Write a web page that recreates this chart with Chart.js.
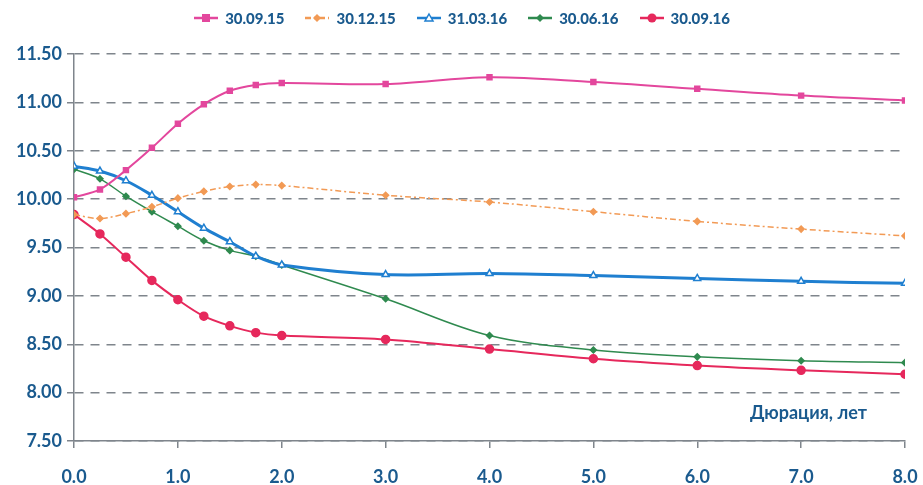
<!DOCTYPE html>
<html>
<head>
<meta charset="utf-8">
<script src="https://cdn.jsdelivr.net/npm/chart.js@4.4.1/dist/chart.umd.min.js"></script>
<style>
  body { margin: 0; background: #fff; }
  #wrap { position: relative; width: 923px; height: 485px; }
  #legend {
    position: absolute; top: 9px; left: 0; width: 923px;
    display: flex; justify-content: center; gap: 20px;
    font: 900 15px Lato, "Open Sans", sans-serif; color: #1a5a8e;
  }
  #legend .item { display: flex; align-items: center; gap: 6px; }
  #legend svg { display: block; }
</style>
</head>
<body>
<div id="wrap">
  <canvas id="line-chart" width="923" height="485"></canvas>
  <div id="legend"></div>
</div>
<script>
// Дюрация, лет
const durations = [0, 0.25, 0.5, 0.75, 1, 1.25, 1.5, 1.75, 2, 3, 4, 5, 6, 7, 8];

// Кривые доходности по датам
const s300915 = [10.02, 10.10, 10.30, 10.53, 10.78, 10.98, 11.12, 11.18, 11.20, 11.19, 11.26, 11.21, 11.14, 11.07, 11.02];
const s301215 = [9.84, 9.80, 9.85, 9.92, 10.01, 10.08, 10.13, 10.15, 10.14, 10.04, 9.97, 9.87, 9.77, 9.69, 9.62];
const s310316 = [10.34, 10.29, 10.19, 10.04, 9.87, 9.70, 9.56, 9.41, 9.32, 9.22, 9.23, 9.21, 9.18, 9.15, 9.13];
const s300616 = [10.31, 10.21, 10.03, 9.87, 9.72, 9.57, 9.47, 9.41, 9.32, 8.97, 8.59, 8.44, 8.37, 8.33, 8.31];
const s300916 = [9.84, 9.64, 9.40, 9.16, 8.96, 8.79, 8.69, 8.62, 8.59, 8.55, 8.45, 8.35, 8.28, 8.23, 8.19];

const seriesNames = ['30.09.15', '30.12.15', '31.03.16', '30.06.16', '30.09.16'];
const yRange = [7.5, 11.5, 0.5];   // min, max, шаг
const xRange = [0, 8, 1];
const axisTitle = 'Дюрация, лет';

const textColor = '#1a5a8e';
const gridColor = '#7f858c';

function toPoints(vals) {
  return vals.map((v, i) => ({ x: durations[i], y: v }));
}

const styles = [
  { color: '#e3479d', style: 'rect', r: 3.5, w: 2, dash: [] },
  { color: '#f29a55', style: 'rectRot', r: 3, w: 1.5, dash: [6, 3, 2, 3] },
  { color: '#1f7fd0', style: 'triangle', r: 4, w: 3, dash: [] },
  { color: '#2f8a4f', style: 'rectRot', r: 3, w: 1.5, dash: [] },
  { color: '#e6285c', style: 'circle', r: 4, w: 2, dash: [] }
];
const allSeries = [s300915, s301215, s310316, s300616, s300916];

const datasets = allSeries.map((vals, i) => ({
  label: seriesNames[i],
  data: toPoints(vals),
  borderColor: styles[i].color,
  backgroundColor: styles[i].style === 'triangle' ? '#ffffff' : styles[i].color,
  borderWidth: styles[i].w,
  borderDash: styles[i].dash,
  pointStyle: styles[i].style,
  pointRadius: styles[i].r,
  pointBorderWidth: 1.5,
  pointBorderColor: styles[i].color,
  pointBackgroundColor: styles[i].style === 'triangle' ? '#ffffff' : styles[i].color,
  tension: 0.35,
  fill: false
}));

// подпись оси внутри области графика
const axisTitlePlugin = {
  id: 'axisTitle',
  afterDraw(chart) {
    const { ctx, chartArea } = chart;
    ctx.save();
    ctx.font = 'bold 18px Lato, "Open Sans", sans-serif';
    ctx.fillStyle = textColor;
    ctx.textAlign = 'right';
    ctx.textBaseline = 'middle';
    ctx.fillText(axisTitle, chartArea.right - 38, chartArea.bottom - 28);
    ctx.restore();
  }
};

const config = {
  type: 'line',
  data: { datasets },
  options: {
    responsive: false,
    animation: false,
    layout: { padding: { top: 54, right: 18, left: 0, bottom: 0 } },
    plugins: { legend: { display: false }, tooltip: { enabled: false } },
    scales: {
      x: {
        type: 'linear',
        min: xRange[0], max: xRange[1],
        afterFit: (s) => { s.height = 44; s.paddingLeft = 0; s.paddingRight = 0; },
        border: { color: gridColor, width: 1.5 },
        grid: { drawOnChartArea: false, drawTicks: true, tickLength: 7, color: gridColor, lineWidth: 1.5 },
        ticks: {
          stepSize: xRange[2],
          padding: 18,
          color: textColor,
          font: { family: 'Lato', size: 18, weight: 'bold' },
          callback: (v) => Number(v).toFixed(1)
        }
      },
      y: {
        min: yRange[0], max: yRange[1],
        afterFit: (s) => { s.width = 74; },
        border: { color: gridColor, width: 1.5, dash: [9, 7] },
        grid: {
          color: gridColor, lineWidth: 1.5,
          tickLength: 7, tickBorderDash: [], tickColor: gridColor
        },
        ticks: {
          stepSize: yRange[2],
          padding: 5,
          color: textColor,
          font: { family: 'Lato', size: 18, weight: 'bold' },
          callback: (v) => Number(v).toFixed(2)
        }
      }
    }
  },
  plugins: [axisTitlePlugin]
};

// легенда
const legendEl = document.getElementById('legend');
seriesNames.forEach((name, i) => {
  const st = styles[i];
  const item = document.createElement('div');
  item.className = 'item';
  let marker = '';
  const c = st.color;
  if (st.style === 'rect') marker = `<rect x="9" y="4" width="8" height="8" fill="${c}"/>`;
  else if (st.style === 'rectRot') marker = `<polygon points="13,4 17,8 13,12 9,8" fill="${c}"/>`;
  else if (st.style === 'triangle') marker = `<polygon points="13,4 17,11 9,11" fill="#fff" stroke="${c}" stroke-width="1.5"/>`;
  else marker = `<circle cx="13" cy="8" r="4.5" fill="${c}"/>`;
  const dash = st.dash.length ? `stroke-dasharray="${st.dash.join(' ')}"` : '';
  item.innerHTML = `<svg width="26" height="16"><line x1="1" y1="8" x2="25" y2="8" stroke="${c}" stroke-width="2.5" ${dash}/>${marker}</svg><span>${name}</span>`;
  legendEl.appendChild(item);
});

window.onload = function () {
  const ctx = document.getElementById('line-chart').getContext('2d');
  new Chart(ctx, config);
};
</script>
</body>
</html>
